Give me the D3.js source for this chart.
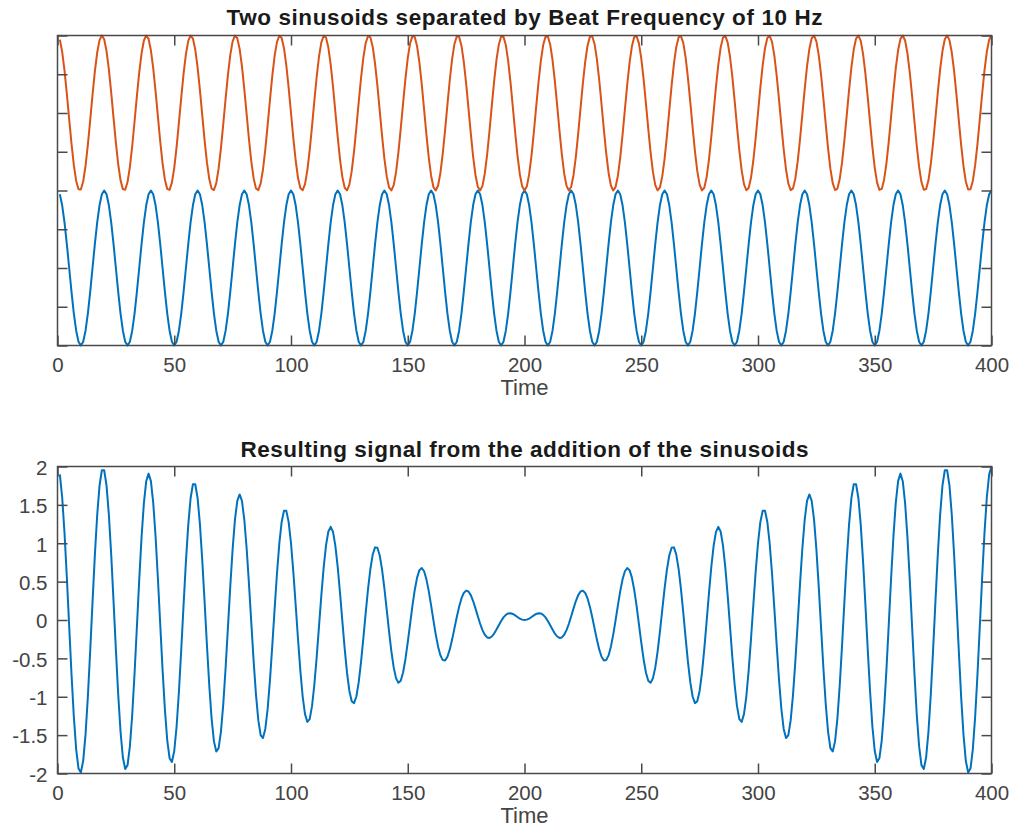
<!DOCTYPE html>
<html lang="en">

<head>
  <meta charset="utf-8">
  <title> Beat frequency </title>
  <script src="https://d3js.org/d3.v7.min.js"></script>
  <style>
    body {
      margin: 0;
      background: #fff;
      font-family: "Liberation Sans", Arial, sans-serif;
    }

    .tick text {
      fill: #444;
      font-size: 20.5px;
    }

    .tick line,
    .frame {
      stroke: #4a4a4a;
      stroke-width: 1.5;
    }

    .title {
      font-weight: bold;
      font-size: 22.5px;
      fill: #1a1a1a;
    }

    .xlabel {
      font-size: 22px;
      fill: #444;
    }
  </style>
</head>

<body>
  <script>
    // Parameters: the sinusoids peak together at the start
    // and at the end, blue makes 20 cycles over 400 samples, orange 21
    var sampleCount = 400;
    var cycles = [20, 21];
    var amplitudes = [1, 1];
    var offsets = [0, 2]; // orange is lifted by 2 in the top plot
    var colors = ["#0072BD", "#D95319"];

    var xTicks = [0, 50, 100, 150, 200, 250, 300, 350, 400];
    var topYTicks = [-1, -0.5, 0, 0.5, 1, 1.5, 2, 2.5, 3];
    var bottomYTicks = [-2, -1.5, -1, -0.5, 0, 0.5, 1, 1.5, 2];
    var bottomYLabels = ["-2", "-1.5", "-1", "-0.5", "0", "0.5", "1", "1.5", "2"];

    var titles = ["Two sinusoids separated by Beat Frequency of 10 Hz",
      "Resulting signal from the addition of the sinusoids"];
    var titleWidths = [596, 568];

    // samples are numbered 1..N like a matlab plot(y)
    var n = d3.range(1, sampleCount + 1);
    var waves = cycles.map(function(c, i) {
      return n.map(function(k) {
        return amplitudes[i] * Math.cos(2 * Math.PI * c * k / sampleCount);
      });
    });
    var sum = n.map(function(k, j) {
      return waves[0][j] + waves[1][j];
    });

    var svg = d3.select("body")
      .append("svg")
      .attr("width", 1014)
      .attr("height", 828);

    var left = 57.5,
      right = 991.5;

    var x = d3.scaleLinear().domain([0, 400]).range([left, right]);

    function panel(p) {
      var y = d3.scaleLinear().domain(p.yDomain).range([p.bottom, p.top]);
      var g = svg.append("g");

      var line = d3.line()
        .x(function(d) { return x(d.t); })
        .y(function(d) { return y(d.v); });

      p.series.forEach(function(s) {
        g.append("path")
          .datum(s.values.map(function(v, j) { return { t: n[j], v: v + s.offset }; }))
          .attr("fill", "none")
          .attr("stroke", s.color)
          .attr("stroke-width", 2)
          .attr("stroke-linejoin", "round")
          .attr("d", line);
      });

      // inward ticks on every side
      g.append("g")
        .attr("transform", "translate(0," + p.bottom + ")")
        .call(d3.axisBottom(x).tickValues(xTicks).tickSize(-10))
        .call(function(a) {
          a.select(".domain").remove();
          a.selectAll("text").attr("y", p.tickBaseline - p.bottom).attr("dy", 0);
        });
      g.append("g")
        .attr("transform", "translate(0," + p.top + ")")
        .call(d3.axisTop(x).tickValues(xTicks).tickSize(-10).tickFormat(""))
        .call(function(a) { a.select(".domain").remove(); });
      var yl = d3.axisLeft(y).tickValues(p.yTicks).tickSize(-10).tickPadding(10);
      if (p.yLabels) {
        yl.tickFormat(function(d, i) { return p.yLabels[i]; });
      } else {
        yl.tickFormat("");
      }
      g.append("g")
        .attr("transform", "translate(" + left + ",0)")
        .call(yl)
        .call(function(a) {
          a.select(".domain").remove();
          a.selectAll("text").attr("dy", "0.38em");
        });
      g.append("g")
        .attr("transform", "translate(" + right + ",0)")
        .call(d3.axisRight(y).tickValues(p.yTicks).tickSize(-10).tickFormat(""))
        .call(function(a) { a.select(".domain").remove(); });

      g.append("rect")
        .attr("class", "frame")
        .attr("x", left)
        .attr("y", p.top)
        .attr("width", right - left)
        .attr("height", p.bottom - p.top)
        .attr("fill", "none");

      g.selectAll(".tick text").attr("font-family", "Liberation Sans, Arial, sans-serif");

      g.append("text")
        .attr("class", "title")
        .attr("x", (left + right) / 2)
        .attr("y", p.titleBaseline)
        .attr("text-anchor", "middle")
        .attr("textLength", p.titleWidth)
        .attr("lengthAdjust", "spacing")
        .text(p.title);

      g.append("text")
        .attr("class", "xlabel")
        .attr("x", (left + right) / 2)
        .attr("y", p.xTitleBaseline)
        .attr("text-anchor", "middle")
        .text("Time");
    }

    panel({
      top: 35.5, bottom: 345.5, yDomain: [-1, 3], yTicks: topYTicks, yLabels: null,
      title: titles[0], titleWidth: titleWidths[0], titleBaseline: 25,
      tickBaseline: 372, xTitleBaseline: 395,
      series: [
        { values: waves[0], offset: offsets[0], color: colors[0] },
        { values: waves[1], offset: offsets[1], color: colors[1] }
      ]
    });

    panel({
      top: 466.5, bottom: 773.5, yDomain: [-2, 2], yTicks: bottomYTicks, yLabels: bottomYLabels,
      title: titles[1], titleWidth: titleWidths[1], titleBaseline: 457,
      tickBaseline: 800, xTitleBaseline: 823,
      series: [
        { values: sum, offset: 0, color: colors[0] }
      ]
    });
  </script>
</body>

</html>
